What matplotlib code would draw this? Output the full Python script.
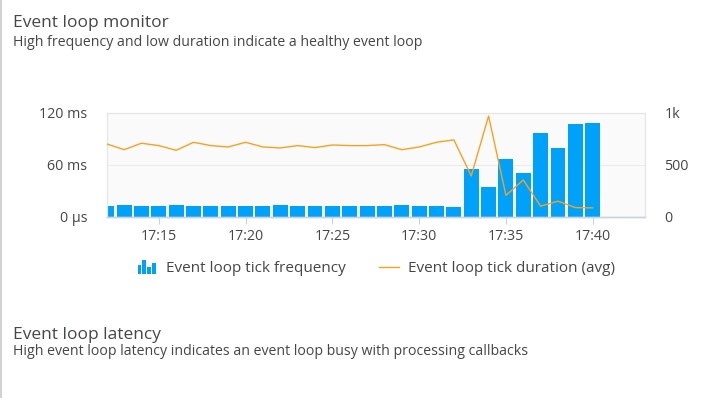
import matplotlib
matplotlib.use("Agg")
import matplotlib.pyplot as plt
from matplotlib.legend_handler import HandlerBase
from matplotlib.patches import Rectangle
from matplotlib.lines import Line2D

# minutes after 17:00, one bar / point per minute
minutes = list(range(12, 41))
tick_frequency = [106, 118, 106, 106, 118, 106, 106, 106, 106, 106, 118, 106, 106, 106,
                  106, 106, 106, 118, 106, 106, 96, 457, 288, 553, 422, 802, 658, 888, 901]
tick_duration_ms = [84.0, 77.4, 84.8, 82.1, 76.7, 85.9, 82.1, 80.5, 85.9, 80.5, 79.4, 82.1, 79.8, 82.8,
                    82.1, 82.1, 83.2, 77.4, 80.5, 85.9, 88.7, 47.2, 116.1, 24.8, 42.6, 12.4, 18.2, 10.8, 10.5]
xtick_minutes = [15, 20, 25, 30, 35, 40]
xtick_labels = ["17:15", "17:20", "17:25", "17:30", "17:35", "17:40"]

TEXT = "#454646"
BLUE = "#00a1f9"
ORANGE = "#f7a21e"
plt.rcParams["font.family"] = ["Open Sans", "DejaVu Sans"]


class BarIconHandler(HandlerBase):
    def create_artists(self, legend, orig_handle, xdescent, ydescent, width, height, fontsize, trans):
        levels = [0.6, 1.0, 0.45, 0.8]
        w = width / 4.0
        out = []
        for i, lv in enumerate(levels):
            r = Rectangle((xdescent + i * w + w * 0.12, -ydescent - 1), w * 0.76, (height + 2) * lv,
                          facecolor=BLUE, edgecolor="none", transform=trans)
            out.append(r)
        return out


fig = plt.figure(figsize=(7.07, 3.98), dpi=100)
fig.patch.set_facecolor("white")

ax = fig.add_axes([0.151, 0.4548, 0.761, 0.2622])
ax2 = ax.twinx()

# frequency bars (right axis)
ax2.bar(minutes, tick_frequency, width=0.86, color=BLUE, zorder=2)
ax2.set_ylim(0, 1000)
ax2.set_yticks([0, 500, 1000])
ax2.set_yticklabels(["0", "500", "1k"])

# duration line (left axis) drawn above the bars
ax.set_zorder(ax2.get_zorder() + 1)
ax.patch.set_visible(False)
ax2.patch.set_visible(True)
ax2.set_facecolor("#fafafa")
ax.plot(minutes, tick_duration_ms, color=ORANGE, lw=1.0, zorder=3)
ax.set_ylim(0, 120)
ax.set_yticks([0, 60, 120])
ax.set_yticklabels(["0 µs", "60 ms", "120 ms"])
ax.set_xlim(12, 43)
ax.set_xticks(xtick_minutes)
ax.set_xticklabels(xtick_labels)

ax2.axhline(500, color="#ececec", lw=0.8, zorder=0)

for a in (ax, ax2):
    for s in ("top", "right", "left"):
        a.spines[s].set_color("#e6e6e6")
        a.spines[s].set_linewidth(0.8)
    a.spines["bottom"].set_color("#c8d3e2")
    a.spines["bottom"].set_linewidth(1.0)
    a.tick_params(axis="y", length=0, labelsize=10.3, labelcolor=TEXT)
ax.tick_params(axis="y", pad=14)
ax2.tick_params(axis="y", pad=14)
ax.tick_params(axis="x", length=5, width=0.8, color="#c8d3e2", labelsize=10.3, labelcolor=TEXT, pad=4)

handles = [Rectangle((0, 0), 1, 1), Line2D([], [], color=ORANGE, lw=1.0)]
labels = ["Event loop tick frequency", "Event loop tick duration (avg)"]
fig.legend(handles, labels, loc="center", bbox_to_anchor=(0.532, 0.325), ncol=2, frameon=False,
           handler_map={Rectangle: BarIconHandler()}, handlelength=1.3, handletextpad=0.6,
           columnspacing=2.2, fontsize=11, labelcolor=TEXT)

fig.text(0.018, 0.933, "Event loop monitor", fontsize=12.5, color=TEXT, va="baseline")
fig.text(0.018, 0.884, "High frequency and low duration indicate a healthy event loop",
         fontsize=10.2, color=TEXT, va="baseline")
fig.text(0.018, 0.1475, "Event loop latency", fontsize=12.5, color=TEXT, va="baseline")
fig.text(0.018, 0.108, "High event loop latency indicates an event loop busy with processing callbacks",
         fontsize=10.2, color=TEXT, va="baseline")

fig.add_artist(Line2D([0.0015, 0.0015], [0, 1], transform=fig.transFigure, color="#d2d2d2", lw=1.5))

fig.savefig("out.png", dpi=100)
